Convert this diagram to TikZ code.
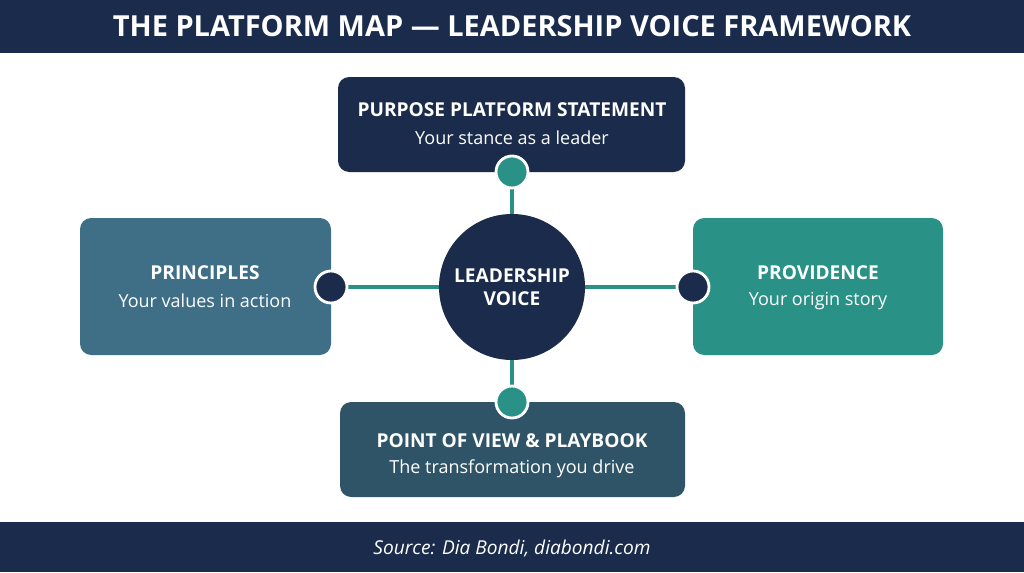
\documentclass[tikz,border=0pt]{standalone}
\usepackage{fontspec}
\setmainfont{Open Sans}
\definecolor{navy}{HTML}{1B2B4B}
\definecolor{steel}{HTML}{3F6E87}
\definecolor{teal}{HTML}{2A9187}
\definecolor{slate}{HTML}{2F5468}
\begin{document}
\begin{tikzpicture}[x=0.025cm,y=-0.025cm,
    ttl/.style={text=white,font=\bfseries\fontsize{13.6}{16}\selectfont},
    sub/.style={text=white,font=\fontsize{12.8}{15}\selectfont},
    link/.style={teal,line width=3pt},
    dot/.style={circle,draw=white,line width=2pt,minimum size=32*0.025cm,inner sep=0pt}]
    % frame
    \useasboundingbox (0,0) rectangle (1024,572);
    \fill[white] (0,0) rectangle (1024,572);
    \fill[navy] (0,0) rectangle (1024,53);
    \fill[navy] (0,522) rectangle (1024,572);
    \node[text=white,font=\bfseries\fontsize{20.6}{24}\selectfont] (title) at (512,26)
      {THE PLATFORM MAP — LEADERSHIP VOICE FRAMEWORK};
    \node[text=white,font=\itshape\fontsize{13.6}{16}\selectfont] (source) at (512,548)
      {Source: Dia Bondi, diabondi.com};
    % connectors
    \coordinate (lft) at (331,287); \coordinate (rgt) at (693,287);
    \coordinate (top) at (512,172); \coordinate (bot) at (512,402);
    \draw[link] (lft) -- (rgt);
    \draw[link] (top) -- (bot);
    % boxes
    \fill[navy,rounded corners=8pt] (338,77) rectangle (685,172);
    \fill[steel,rounded corners=8pt] (80,218) rectangle (331,355);
    \fill[teal,rounded corners=8pt] (693,218) rectangle (943,355);
    \fill[slate,rounded corners=8pt] (340,402) rectangle (685,497);
    \node[ttl] (purpose) at (512,110) {PURPOSE PLATFORM STATEMENT};
    \node[sub] (purposesub) at (512,138) {Your stance as a leader};
    \node[ttl] (principles) at (205,273) {PRINCIPLES};
    \node[sub] (principlessub) at (205,301) {Your values in action};
    \node[ttl] (providence) at (818,273) {PROVIDENCE};
    \node[sub] (providencesub) at (818,301) {Your origin story};
    \node[ttl] (pov) at (512,441) {POINT OF VIEW \& PLAYBOOK};
    \node[sub] (povsub) at (512,469) {The transformation you drive};
    % centre
    \node[circle,fill=navy,minimum size=146*0.025cm,ttl,align=center,
      font=\bfseries\fontsize{13.6}{16}\selectfont] (voice) at (512,287) {LEADERSHIP\\VOICE};
    % dots
    \node[dot,fill=teal] (dottop) at (top) {};
    \node[dot,fill=teal] (dotbot) at (bot) {};
    \node[dot,fill=navy] (dotlft) at (lft) {};
    \node[dot,fill=navy] (dotrgt) at (rgt) {};
\end{tikzpicture}
\end{document}
